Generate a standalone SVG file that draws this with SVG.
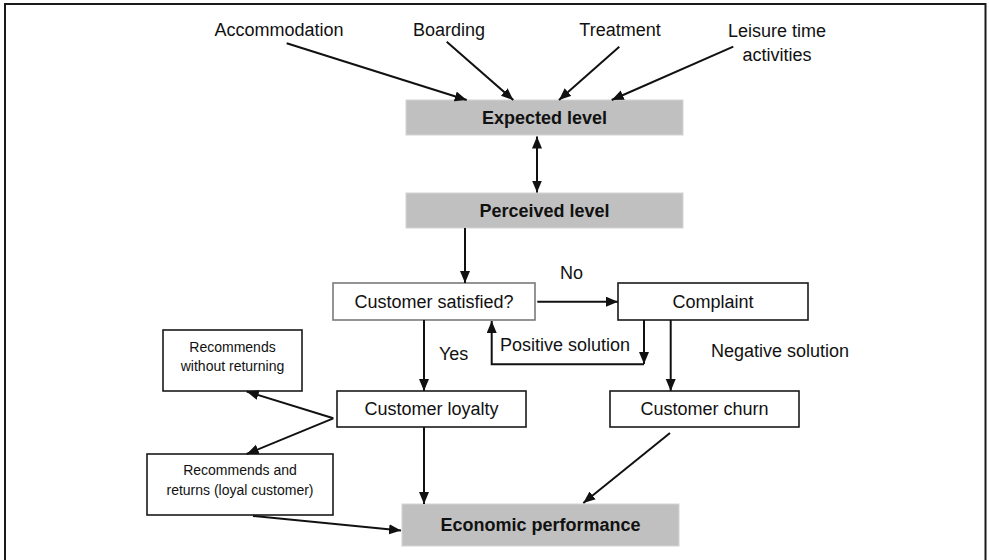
<svg xmlns="http://www.w3.org/2000/svg" width="989" height="560" viewBox="0 0 989 560">
  <style>
    .frame { fill: none; stroke: #1a1a1a; stroke-width: 2; }
    .box { fill: #ffffff; stroke: #1a1a1a; stroke-width: 1.6; }
    .box-light { fill: #ffffff; stroke: #7a7a7a; stroke-width: 1.6; }
    .level { fill: #c0c0c0; stroke: #d4d4d4; stroke-width: 1; }
    .lbl { font-family: "Liberation Sans", Arial, sans-serif; font-size: 18px; fill: #111; }
    .bold { font-weight: bold; }
    .small { font-size: 14px; }
    .mid { text-anchor: middle; }
    .conn { fill: none; stroke: #111; stroke-width: 2; }
    .arrow { marker-end: url(#head); }
  </style>
  <defs>
    <marker id="head" markerUnits="userSpaceOnUse" markerWidth="13" markerHeight="11" refX="12" refY="5" orient="auto-start-reverse">
      <path d="M0,0 L12,5 L0,10 z" fill="#111"/>
    </marker>
  </defs>

  <rect width="989" height="560" fill="#ffffff"/>
  <!-- outer frame, open at the bottom -->
  <path class="frame" d="M5,560 V4 H985.5 V560"/>

  <!-- influencing factors -->
  <g id="accommodation"><text class="lbl mid" x="279" y="36">Accommodation</text></g>
  <g id="boarding"><text class="lbl mid" x="449" y="36">Boarding</text></g>
  <g id="treatment"><text class="lbl mid" x="620" y="36">Treatment</text></g>
  <g id="leisure">
    <text class="lbl mid" x="777" y="37">Leisure time</text>
    <text class="lbl mid" x="777" y="61">activities</text>
  </g>

  <g id="expected-level">
    <rect class="level" x="406" y="100" width="277" height="35"/>
    <text class="lbl bold mid" x="544.5" y="124">Expected level</text>
  </g>
  <g id="perceived-level">
    <rect class="level" x="406" y="193" width="277" height="35"/>
    <text class="lbl bold mid" x="544.5" y="217">Perceived level</text>
  </g>

  <g id="customer-satisfied">
    <rect class="box-light" x="333" y="283" width="202" height="37"/>
    <text class="lbl mid" x="434" y="308">Customer satisfied?</text>
  </g>
  <g id="complaint">
    <rect class="box" x="618" y="283" width="190" height="37"/>
    <text class="lbl mid" x="713" y="308">Complaint</text>
  </g>
  <g id="customer-loyalty">
    <rect class="box" x="337" y="391" width="189" height="36"/>
    <text class="lbl mid" x="431.5" y="415">Customer loyalty</text>
  </g>
  <g id="customer-churn">
    <rect class="box" x="610" y="391" width="189" height="36"/>
    <text class="lbl mid" x="704.5" y="415">Customer churn</text>
  </g>
  <g id="recommends-without-returning">
    <rect class="box" x="163" y="330" width="139" height="61"/>
    <text class="lbl small mid" x="232.5" y="352">Recommends</text>
    <text class="lbl small mid" x="232.5" y="371">without returning</text>
  </g>
  <g id="recommends-and-returns">
    <rect class="box" x="147" y="454" width="186" height="61"/>
    <text class="lbl small mid" x="240" y="475">Recommends and</text>
    <text class="lbl small mid" x="240" y="494.5">returns (loyal customer)</text>
  </g>
  <g id="economic-performance">
    <rect class="level" x="402" y="504" width="277" height="42"/>
    <text class="lbl bold mid" x="540.5" y="531">Economic performance</text>
  </g>

  <!-- connector labels -->
  <g id="connector-labels">
    <text class="lbl" x="560" y="279">No</text>
    <text class="lbl" x="439" y="360">Yes</text>
    <text class="lbl" x="500" y="351">Positive solution</text>
    <text class="lbl" x="711" y="357">Negative solution</text>
  </g>

  <g id="connectors">
    <line class="conn arrow" x1="286.7" y1="43.3" x2="466.7" y2="100"/>
    <line class="conn arrow" x1="446.7" y1="41.7" x2="513.3" y2="100"/>
    <line class="conn arrow" x1="619.3" y1="46.7" x2="559" y2="100"/>
    <line class="conn arrow" x1="733.3" y1="46.7" x2="611.7" y2="100"/>
    <line class="conn" x1="537" y1="136.5" x2="537" y2="192.5" marker-start="url(#head)" marker-end="url(#head)"/>
    <line class="conn arrow" x1="465" y1="228" x2="465" y2="283"/>
    <line class="conn arrow" x1="537.3" y1="301.7" x2="618" y2="301.7"/>
    <line class="conn arrow" x1="424" y1="320" x2="424" y2="391"/>
    <!-- positive solution loop back -->
    <line class="conn arrow" x1="644" y1="320" x2="644" y2="364"/>
    <path class="conn arrow" d="M644,364.3 H491.7 V321"/>
    <line class="conn arrow" x1="670.7" y1="320" x2="670.7" y2="391"/>
    <!-- loyalty branches -->
    <line class="conn arrow" x1="333.3" y1="418.3" x2="246.7" y2="391.5"/>
    <line class="conn arrow" x1="333.3" y1="418.3" x2="246.7" y2="454"/>
    <line class="conn arrow" x1="424" y1="427" x2="424" y2="504"/>
    <line class="conn arrow" x1="670" y1="433" x2="583.3" y2="503"/>
    <line class="conn arrow" x1="253" y1="516" x2="401" y2="530.5"/>
  </g>
</svg>
